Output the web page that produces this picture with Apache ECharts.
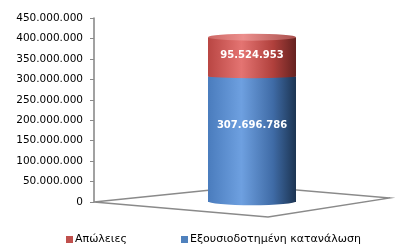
<!DOCTYPE html>
<html>
<head>
<meta charset="utf-8">
<script src="https://cdn.jsdelivr.net/npm/echarts@6/dist/echarts.min.js"></script>
<style>
  html, body { margin: 0; padding: 0; background: #fff; }
  #chart { width: 397px; height: 246px; }
</style>
</head>
<body>
<div id="chart"></div>
<script>
// data
const categories = ['Κατανάλωση'];
const authorized = [307696786];   // Εξουσιοδοτημένη κατανάλωση
const losses = [95524953];        // Απώλειες
const seriesNames = ['Απώλειες', 'Εξουσιοδοτημένη κατανάλωση'];
const legendColors = ['#C0504D', '#4F81BD'];
const yMin = 0;
const yMax = 450000000;
const yStep = 50000000;

const totals = authorized.map((v, i) => v + losses[i]);

// 1234567 -> 1.234.567
const fmt = v => String(Math.round(v)).replace(/\B(?=(\d{3})+(?!\d))/g, '.');

const FONT = 'DejaVu Sans';
const BAR_W = 88;

const blueBody = new echarts.graphic.LinearGradient(0, 0, 1, 0, [
  { offset: 0, color: '#4a7cbd' },
  { offset: 0.38, color: '#6ea0e0' },
  { offset: 0.74, color: '#3f6ba6' },
  { offset: 1, color: '#1c3452' }
]);
const redBody = new echarts.graphic.LinearGradient(0, 0, 1, 0, [
  { offset: 0, color: '#b94643' },
  { offset: 0.38, color: '#e47472' },
  { offset: 0.74, color: '#b0403c' },
  { offset: 1, color: '#652220' }
]);
const redTop = new echarts.graphic.LinearGradient(0, 0, 1, 0, [
  { offset: 0, color: '#cc6764' },
  { offset: 0.4, color: '#ec8f8d' },
  { offset: 1, color: '#a9504d' }
]);

const legendBase = {
  top: 233,
  padding: 0,
  itemWidth: 7,
  itemHeight: 7,
  icon: 'rect',
  textStyle: { fontFamily: FONT, fontSize: 11, lineHeight: 13, color: '#000', padding: [0, 0, 0, -3] }
};

const chart = echarts.init(document.getElementById('chart'));

chart.setOption({
  animation: false,
  textStyle: { fontFamily: FONT },
  // plot area runs past the right edge so the cylinder sits right of centre
  grid: { left: 94, width: 316, top: 18, bottom: 44, outerBoundsMode: 'none', containLabel: false },
  legend: [
    Object.assign({}, legendBase, {
      left: 66,
      data: [{ name: seriesNames[0], itemStyle: { color: legendColors[0] } }]
    }),
    Object.assign({}, legendBase, {
      left: 181,
      data: [{ name: seriesNames[1], itemStyle: { color: legendColors[1] } }]
    })
  ],
  xAxis: {
    type: 'category',
    data: categories,
    show: false
  },
  yAxis: {
    type: 'value',
    min: yMin,
    max: yMax,
    interval: yStep,
    axisLine: { show: true, lineStyle: { color: '#8a8a8a', width: 1.6 } },
    axisTick: { show: true, length: 4, lineStyle: { color: '#8a8a8a', width: 1 } },
    splitLine: { show: false },
    axisLabel: {
      formatter: fmt,
      color: '#000',
      fontFamily: FONT,
      fontSize: 10.5,
      margin: 11
    }
  },
  series: [
    {
      // floor of the 3D plot area
      type: 'custom',
      silent: true,
      z: 0,
      data: [[0, 0]],
      renderItem: function (params, api) {
        const c = api.coord([0, 0]);
        const sys = params.coordSys;
        const x0 = c[0], y0 = c[1];
        return {
          type: 'polygon',
          shape: {
            points: [
              [sys.x, y0],
              [x0 - 2, y0 - 16],
              [x0 + 138, y0 - 4],
              [x0 + 16, y0 + 15]
            ]
          },
          style: { fill: '#fff', stroke: '#8a8a8a', lineWidth: 1.3 }
        };
      }
    },
    {
      name: seriesNames[1],
      type: 'bar',
      stack: 'total',
      barWidth: BAR_W,
      barGap: '-100%',
      z: 2,
      data: authorized,
      itemStyle: { color: blueBody },
      label: {
        show: true,
        position: 'inside',
        offset: [0, -14],
        formatter: p => fmt(p.value),
        color: '#fff',
        fontWeight: 'bold',
        fontFamily: FONT,
        fontSize: 10
      }
    },
    {
      name: seriesNames[0],
      type: 'bar',
      stack: 'total',
      barWidth: BAR_W,
      barGap: '-100%',
      z: 2,
      data: losses,
      itemStyle: { color: redBody },
      label: {
        show: true,
        position: 'inside',
        offset: [0, -1],
        formatter: p => fmt(p.value),
        color: '#fff',
        fontWeight: 'bold',
        fontFamily: FONT,
        fontSize: 10
      }
    },
    {
      // rounded bottom of the cylinder
      type: 'pictorialBar',
      silent: true,
      symbol: 'circle',
      symbolSize: [BAR_W, 8],
      symbolOffset: [0, '40%'],
      barGap: '-100%',
      z: 1,
      data: authorized,
      itemStyle: { color: blueBody }
    },
    {
      // red band wrapping over the blue part
      type: 'pictorialBar',
      silent: true,
      symbol: 'circle',
      symbolSize: [BAR_W, 4],
      symbolPosition: 'end',
      symbolOffset: [0, '-50%'],
      barGap: '-100%',
      z: 3,
      data: authorized,
      itemStyle: { color: redBody }
    },
    {
      // top cap
      type: 'pictorialBar',
      silent: true,
      symbol: 'circle',
      symbolSize: [BAR_W, 7],
      symbolPosition: 'end',
      symbolOffset: [0, '-50%'],
      barGap: '-100%',
      z: 4,
      data: totals,
      itemStyle: { color: redTop }
    }
  ]
});
</script>
</body>
</html>
